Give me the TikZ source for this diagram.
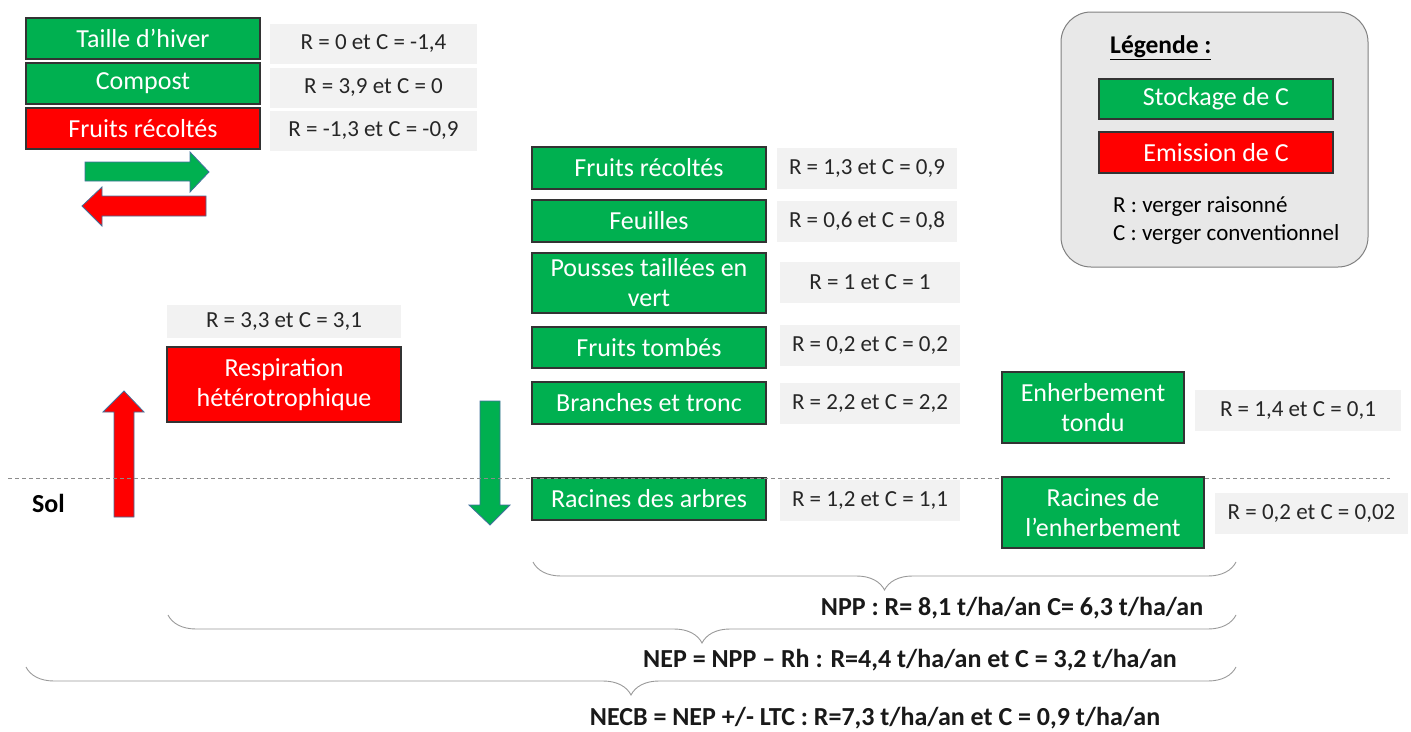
\documentclass[tikz,border=0pt]{standalone}
\usepackage{fontspec}
\setmainfont{Carlito}
\usetikzlibrary{decorations.pathreplacing}
\definecolor{stockgreen}{HTML}{00B050}
\definecolor{emitred}{HTML}{FF0000}
\definecolor{valgray}{HTML}{F2F2F2}
\definecolor{leggray}{HTML}{E8E8E8}
\definecolor{arrowline}{HTML}{41719C}
\tikzset{
  box/.style={draw=black!80,line width=1.1pt,text=white,align=center,
    minimum width=234,minimum height=41,inner sep=0pt,
    font=\fontsize{26}{30}\selectfont},
  stock/.style={box,fill=stockgreen},
  emit/.style={box,fill=emitred},
  val/.style={fill=valgray,text=black!85,minimum height=41,inner sep=0pt,
    font=\fontsize{23}{27}\selectfont},
  total/.style={font=\bfseries\fontsize{26}{30}\selectfont,text=black!90},
  accolade/.style={draw=black!40,line width=.9pt,
    decorate,decoration={brace,amplitude=28}},
  blockarrow/.style={draw=arrowline,line width=.8pt}
}
\begin{document}
\begin{tikzpicture}[x=1pt,y=-1pt]
\useasboundingbox (0,0) rectangle (1411,731);
% flux en haut a gauche
\node[stock] (taille)  at (143,38.5)  {Taille d’hiver};
\node[stock] (compost) at (143,83.5)  {Compost};
\node[emit]  (recolte) at (143,128.5) {Fruits récoltés};
\node[val,minimum width=207,minimum height=40] (vTaille)  at (373.5,44)  {R = 0 et C = -1,4};
\node[val,minimum width=207,minimum height=40] (vCompost) at (373.5,88)  {R = 3,9 et C = 0};
\node[val,minimum width=207,minimum height=40] (vRecolte) at (373.5,131) {R = -1,3 et C = -0,9};
\filldraw[blockarrow,fill=stockgreen] (85,162)--(190,162)--(190,152)--(209,172)--(190,192)--(190,181)--(85,181)--cycle;
\filldraw[blockarrow,fill=emitred] (206,196)--(102,196)--(102,187)--(82,206)--(102,226)--(102,216)--(206,216)--cycle;

% legende
\draw[draw=black!50,line width=1pt,fill=leggray,rounded corners=30] (1061,12) rectangle (1368,267);
\node[font=\bfseries\fontsize{25.5}{30}\selectfont,anchor=west,inner sep=0pt] (legende) at (1110,48) {\underline{Légende :}};
\node[stock,minimum height=40] (lgStock) at (1216,99)    {Stockage de C};
\node[emit]                    (lgEmit)  at (1216,152.5) {Emission de C};
\node[anchor=west,inner sep=0pt,font=\fontsize{23}{27}\selectfont] (lgR) at (1113,207) {R : verger raisonné};
\node[anchor=west,inner sep=0pt,font=\fontsize{23}{27}\selectfont] (lgC) at (1113,234) {C : verger conventionnel};

% arbre
\node[stock,minimum height=42] (fruits)   at (649,168)   {Fruits récoltés};
\node[stock,minimum height=42] (feuilles) at (649,221)   {Feuilles};
\node[stock,minimum height=60] (pousses)  at (649,283)   {Pousses taillées en\\vert};
\node[stock]                   (tombes)   at (649,347.5) {Fruits tombés};
\node[stock,minimum height=42] (branches) at (649,403)   {Branches et tronc};
\node[stock,minimum height=42] (racines)  at (649,499)   {Racines des arbres};
\node[val,minimum width=180] (vFruits)   at (867,168.5) {R = 1,3 et C = 0,9};
\node[val,minimum width=180] (vFeuilles) at (867,221)   {R = 0,6 et C = 0,8};
\node[val,minimum width=180] (vPousses)  at (870,282.5) {R = 1 et C = 1};
\node[val,minimum width=180] (vTombes)   at (870,345.5) {R = 0,2 et C = 0,2};
\node[val,minimum width=180] (vBranches) at (870,403.5) {R = 2,2 et C = 2,2};
\node[val,minimum width=180] (vRacines)  at (870,500.5) {R = 1,2 et C = 1,1};

% respiration et sol
\node[val,minimum width=234,minimum height=33] (vResp) at (284,321.5) {R = 3,3 et C = 3,1};
\node[emit,minimum height=75] (resp) at (284,384.5) {Respiration\\hétérotrophique};
\filldraw[blockarrow,fill=emitred] (114,517)--(114,412)--(103,412)--(124,391)--(144,412)--(134,412)--(134,517)--cycle;
\filldraw[blockarrow,fill=stockgreen] (480,401)--(480,505)--(469,505)--(490,525)--(510,505)--(500,505)--(500,401)--cycle;
\draw[black!45,line width=.9pt,dash pattern=on 4pt off 3pt] (8,478)--(1390,478);
\node[font=\bfseries\fontsize{26}{30}\selectfont] (sol) at (48.5,503) {Sol};

% enherbement
\node[stock,minimum width=182,minimum height=71] (enh)    at (1093,407.5) {Enherbement\\tondu};
\node[stock,minimum width=202,minimum height=71] (racEnh) at (1103,512.5) {Racines de\\l’enherbement};
\node[val,minimum width=206] (vEnh)    at (1298,410.5)   {R = 1,4 et C = 0,1};
\node[val,minimum width=193] (vRacEnh) at (1311.5,513.5) {R = 0,2 et C = 0,02};

% bilans
\coordinate (nppA) at (533,562);  \coordinate (nppB) at (1236,562);
\coordinate (nepA) at (168,615);  \coordinate (nepB) at (1236,615);
\coordinate (necbA) at (26,667);  \coordinate (necbB) at (1236,667);
\draw[accolade] (nppB) -- (nppA);
\draw[accolade] (nepB) -- (nepA);
\draw[accolade] (necbB) -- (necbA);
\node[total] (npp)  at (1012,608) {NPP : R= 8,1 t/ha/an C= 6,3 t/ha/an};
\node[total] (nep)  at (910,660)  {NEP = NPP – Rh : R=4,4 t/ha/an et C = 3,2 t/ha/an};
\node[total] (necb) at (875,718)  {NECB = NEP +/- LTC : R=7,3 t/ha/an et C = 0,9 t/ha/an};
\end{tikzpicture}
\end{document}
